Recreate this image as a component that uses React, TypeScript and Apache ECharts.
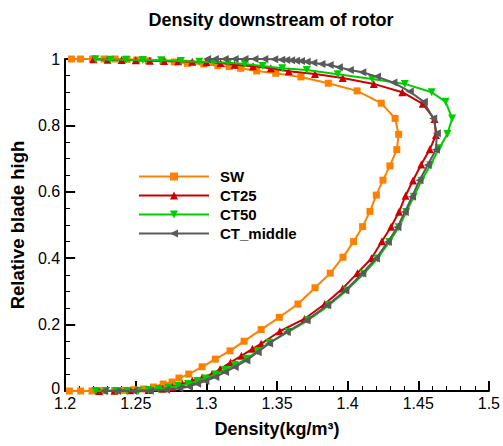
import React, { useEffect, useRef } from "react";
import * as echarts from "echarts";

const seriesNames = ["SW", "CT25", "CT50", "CT_middle"];

const swX = [1.203, 1.211, 1.219, 1.227, 1.235, 1.242, 1.249, 1.2556, 1.2625, 1.2694, 1.2757, 1.2806, 1.2875, 1.297, 1.3063, 1.3167, 1.3267, 1.3388, 1.3516, 1.3648, 1.3769, 1.3877, 1.3967, 1.4042, 1.4106, 1.4158, 1.4203, 1.425, 1.4299, 1.4348, 1.4361, 1.4336, 1.4238, 1.4067, 1.3863, 1.3669, 1.3491, 1.3356, 1.3243, 1.3162, 1.3081, 1.2981, 1.2866, 1.2773, 1.2692, 1.2588, 1.2507, 1.2438, 1.2354, 1.2276, 1.2194, 1.2109, 1.2045];
const swY = [0.0, 0.0, 0.0, 0.001, 0.001, 0.002, 0.004, 0.006, 0.012, 0.021, 0.027, 0.039, 0.051, 0.073, 0.096, 0.121, 0.15, 0.185, 0.222, 0.262, 0.311, 0.355, 0.403, 0.45, 0.495, 0.541, 0.59, 0.635, 0.678, 0.727, 0.773, 0.821, 0.867, 0.904, 0.927, 0.946, 0.957, 0.964, 0.972, 0.977, 0.98, 0.985, 0.987, 0.991, 0.994, 0.995, 0.997, 0.999, 1.0, 1.0, 1.0, 1.0, 1.0];

const ct25X = [1.224, 1.235, 1.246, 1.259, 1.269, 1.276, 1.283, 1.29, 1.297, 1.304, 1.3097, 1.3171, 1.3248, 1.3326, 1.3387, 1.352, 1.3694, 1.3838, 1.3965, 1.4069, 1.4169, 1.4243, 1.4308, 1.4364, 1.441, 1.4463, 1.4521, 1.4582, 1.4625, 1.4615, 1.4532, 1.4387, 1.4185, 1.3965, 1.3769, 1.3583, 1.3456, 1.333, 1.32, 1.31, 1.3, 1.29, 1.28, 1.27, 1.26, 1.25, 1.24, 1.23, 1.22];
const ct25Y = [0.0, 0.001, 0.002, 0.003, 0.007, 0.012, 0.021, 0.031, 0.041, 0.051, 0.066, 0.086, 0.106, 0.127, 0.142, 0.18, 0.217, 0.262, 0.309, 0.355, 0.4, 0.451, 0.495, 0.54, 0.588, 0.634, 0.682, 0.728, 0.771, 0.819, 0.865, 0.9, 0.925, 0.943, 0.955, 0.963, 0.972, 0.978, 0.983, 0.988, 0.99, 0.992, 0.993, 0.994, 0.995, 0.996, 0.997, 0.998, 0.999];

const ct50X = [1.2215, 1.229, 1.236, 1.244, 1.252, 1.259, 1.266, 1.273, 1.28, 1.287, 1.2935, 1.2993, 1.3063, 1.3132, 1.3201, 1.3283, 1.3363, 1.3444, 1.358, 1.372, 1.3866, 1.3994, 1.4114, 1.4211, 1.4295, 1.4362, 1.4415, 1.4468, 1.4522, 1.4585, 1.4648, 1.4706, 1.474, 1.4694, 1.4595, 1.4405, 1.4174, 1.393, 1.371, 1.3537, 1.3398, 1.3271, 1.3155, 1.305, 1.295, 1.282, 1.268, 1.255, 1.243, 1.232, 1.2215];
const ct50Y = [0.0, 0.0, 0.0, 0.0, 0.001, 0.003, 0.006, 0.01, 0.015, 0.021, 0.03, 0.038, 0.05, 0.063, 0.078, 0.097, 0.12, 0.145, 0.178, 0.213, 0.258, 0.303, 0.353, 0.399, 0.449, 0.493, 0.539, 0.585, 0.633, 0.68, 0.731, 0.774, 0.821, 0.871, 0.9, 0.925, 0.94, 0.954, 0.967, 0.972, 0.979, 0.985, 0.989, 0.991, 0.992, 0.994, 0.996, 0.997, 0.998, 0.998, 0.999];

const ctmX = [1.2276, 1.2368, 1.2484, 1.26, 1.2715, 1.2808, 1.2877, 1.2935, 1.2993, 1.3063, 1.3132, 1.3201, 1.3283, 1.3363, 1.3444, 1.357, 1.371, 1.3856, 1.3984, 1.4104, 1.4201, 1.4285, 1.4352, 1.4405, 1.4456, 1.4509, 1.4567, 1.4625, 1.4632, 1.4606, 1.454, 1.444, 1.4324, 1.4208, 1.4104, 1.4016, 1.3938, 1.3873, 1.3815, 1.3757, 1.371, 1.367, 1.3635, 1.36, 1.3565, 1.353, 1.348, 1.341, 1.334, 1.327, 1.32, 1.313, 1.306, 1.3005];
const ctmY = [0.0, 0.0, 0.0, 0.001, 0.004, 0.008, 0.013, 0.022, 0.03, 0.042, 0.057, 0.072, 0.092, 0.117, 0.143, 0.178, 0.213, 0.258, 0.303, 0.354, 0.399, 0.449, 0.493, 0.539, 0.585, 0.635, 0.681, 0.727, 0.776, 0.821, 0.871, 0.902, 0.929, 0.947, 0.96, 0.967, 0.975, 0.982, 0.985, 0.989, 0.992, 0.994, 0.995, 0.996, 0.997, 0.998, 0.999, 1.0, 1.0, 1.0, 1.0, 1.0, 1.0, 1.0];

const colors = ["#ff8000", "#cc0000", "#00cc00", "#5a5a5a"];
const symbols = ["rect", "triangle", "triangle", "triangle"];
const rotations = [0, 0, 180, 90];
const symbolSizes = [7, 8, 8, 8];

const FONT = "Liberation Sans, Arial, sans-serif";

function pairs(xs: number[], ys: number[]) {
  return xs.map((x, i) => [x, ys[i]]);
}

export default function App() {
  const ref = useRef<HTMLDivElement>(null);
  useEffect(() => {
    document.body.style.margin = "0";
    if (!ref.current) return;
    const chart = echarts.init(ref.current, null, { renderer: "svg" });
    const datasets = [pairs(swX, swY), pairs(ct25X, ct25Y), pairs(ct50X, ct50Y), pairs(ctmX, ctmY)];
    chart.setOption({
      animation: false,
      backgroundColor: "#ffffff",
      title: {
        text: "Density downstream of rotor",
        left: 266,
        textAlign: "center",
        top: 6,
        textStyle: { fontFamily: FONT, fontSize: 18, fontWeight: "bold", color: "#000" },
      },
      legend: {
        orient: "vertical",
        left: 133,
        top: 164,
        itemWidth: 70,
        itemHeight: 10,
        itemGap: 4,
        data: seriesNames,
        textStyle: { fontFamily: FONT, fontSize: 15, fontWeight: "bold", color: "#000", padding: [0, 0, 0, 6] },
      },
      grid: { left: 57, right: 14, top: 59, bottom: 55, containLabel: false },
      xAxis: {
        type: "value",
        min: 1.2,
        max: 1.5,
        interval: 0.05,
        name: "Density(kg/m³)",
        nameLocation: "middle",
        nameGap: 29,
        nameTextStyle: { fontFamily: FONT, fontSize: 18, fontWeight: "bold", color: "#000" },
        axisLine: { show: true, onZero: false, lineStyle: { color: "#000", width: 2 } },
        axisTick: { show: true, inside: true, length: 10, lineStyle: { color: "#000", width: 2 } },
        minorTick: { show: true, splitNumber: 5, length: 5, lineStyle: { color: "#000", width: 1 } },
        axisLabel: { fontFamily: FONT, fontSize: 16, lineHeight: 14, color: "#000", margin: 5 },
        splitLine: { show: false },
      },
      yAxis: {
        type: "value",
        min: 0,
        max: 1,
        interval: 0.2,
        name: "Relative blade high",
        nameLocation: "middle",
        nameGap: 33,
        nameTextStyle: { fontFamily: FONT, fontSize: 18.5, fontWeight: "bold", color: "#000" },
        axisLine: { show: true, onZero: false, lineStyle: { color: "#000", width: 2 } },
        axisTick: { show: true, inside: true, length: 10, lineStyle: { color: "#000", width: 2 } },
        minorTick: { show: true, splitNumber: 4, length: 5, lineStyle: { color: "#000", width: 1 } },
        axisLabel: {
          fontFamily: FONT,
          fontSize: 16,
          lineHeight: 11,
          color: "#000",
          margin: 5,
          formatter: (v: number) => (v === 0 ? "{z|0}" : String(v)),
          rich: { z: { fontFamily: FONT, fontSize: 16, lineHeight: 11, color: "#000", padding: [0, 0, 6, 0] } },
        },
        splitLine: { show: false },
      },
      series: seriesNames.map((name, i) => ({
        name,
        type: "line",
        data: datasets[i],
        clip: false,
        showSymbol: true,
        showAllSymbol: true,
        symbol: symbols[i],
        symbolRotate: rotations[i],
        symbolSize: symbolSizes[i],
        lineStyle: { color: colors[i], width: 2 },
        itemStyle: { color: colors[i] },
        z: 2 + i,
      })),
    });
    return () => chart.dispose();
  }, []);
  return <div ref={ref} style={{ width: 503, height: 446 }} />;
}
